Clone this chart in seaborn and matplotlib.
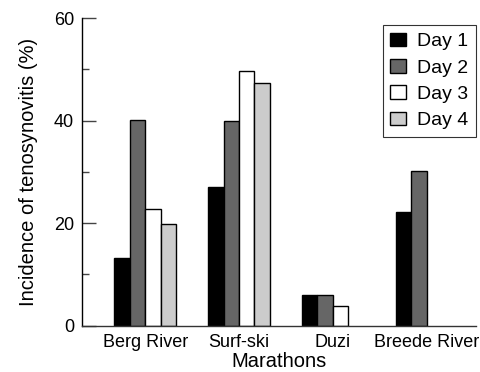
import matplotlib
matplotlib.use("Agg")
import matplotlib.pyplot as plt
import seaborn as sns
import pandas as pd
import numpy as np
from matplotlib.ticker import MultipleLocator

marathons = ["Berg River", "Surf-ski", "Duzi", "Breede River"]
days = ["Day 1", "Day 2", "Day 3", "Day 4"]
day1 = [13.3, 27.0, 6.0, 22.2]
day2 = [40.2, 40.0, 6.0, 30.1]
day3 = [22.8, 49.7, 3.9, np.nan]
day4 = [19.9, 47.4, np.nan, np.nan]
colors = ["#000000", "#666666", "#ffffff", "#cccccc"]

rows = []
for d, vals in zip(days, [day1, day2, day3, day4]):
    for m, v in zip(marathons, vals):
        rows.append({"Marathon": m, "Day": d, "Incidence": v})
df = pd.DataFrame(rows)

sns.set_theme(style="ticks")
plt.rcParams["font.family"] = ["Liberation Sans", "DejaVu Sans"]

fig = plt.figure(figsize=(4.81, 3.72), dpi=100)
ax = fig.add_axes([0.171, 0.1245, 0.819, 0.8265])

sns.barplot(data=df, x="Marathon", y="Incidence", hue="Day",
            order=marathons, hue_order=days, palette=colors,
            width=0.66, edgecolor="black", linewidth=1.0,
            saturation=1, errorbar=None, ax=ax)

ax.set_xlim(-0.672, 3.53)
ax.set_ylim(0, 60)
ax.set_yticks([0, 20, 40, 60])
ax.yaxis.set_minor_locator(MultipleLocator(10))
ax.tick_params(axis="y", which="major", direction="in", length=10, width=1,
               labelsize=13, pad=6, color="#444444")
ax.tick_params(axis="y", which="minor", direction="in", length=5, width=1,
               color="#444444")
ax.tick_params(axis="x", length=0, labelsize=13, pad=6)
for lbl in ax.get_yticklabels() + ax.get_xticklabels():
    lbl.set_color("black")

ax.set_xlabel("Marathons", fontsize=14.5, labelpad=1, color="black")
ax.set_ylabel("Incidence of tenosynovitis (%)", fontsize=14.5, labelpad=11,
              color="black")

sns.despine(ax=ax)
ax.spines["left"].set_color("black")
ax.spines["bottom"].set_color("#333333")
ax.spines["left"].set_linewidth(1.0)
ax.spines["bottom"].set_linewidth(1.0)

leg = ax.legend(loc="upper right", bbox_to_anchor=(0.9985, 0.978),
                fontsize=14, frameon=True, fancybox=False,
                handlelength=0.8, handleheight=0.7, handletextpad=0.55,
                labelspacing=0.45, borderpad=0.4, borderaxespad=0)
leg.get_frame().set_edgecolor("black")
leg.get_frame().set_linewidth(0.8)
for t in leg.get_texts():
    t.set_color("black")

fig.savefig("out.png", dpi=100)
